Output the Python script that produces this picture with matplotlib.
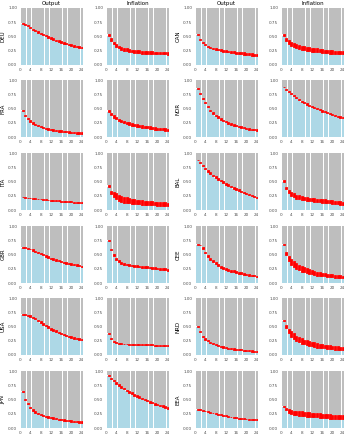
import numpy as np
import matplotlib
matplotlib.use("Agg")
import matplotlib.pyplot as plt

# ===============================
# dados
# ===============================
horizons = list(range(1, 25))
col_titles = ["Output", "Inflation", "Output", "Inflation"]
left_countries = ["DEU", "FRA", "ITA", "GBR", "USA", "JPN"]
right_countries = ["CAN", "NOR", "BAL", "CEE", "NRD", "EEA"]
y_ticks = [0.00, 0.25, 0.50, 0.75, 1.00]
x_ticks = [0, 4, 8, 12, 16, 20, 24]

deu_out_lo = [0.72, 0.70, 0.68, 0.65, 0.62, 0.59, 0.57, 0.54, 0.52, 0.50, 0.48, 0.46, 0.44, 0.42, 0.40, 0.39, 0.37, 0.36, 0.35, 0.33, 0.32, 0.31, 0.30, 0.29]
deu_out_hi = [0.74, 0.72, 0.70, 0.67, 0.64, 0.61, 0.59, 0.565, 0.545, 0.525, 0.505, 0.485, 0.465, 0.445, 0.43, 0.415, 0.40, 0.39, 0.375, 0.36, 0.35, 0.34, 0.33, 0.32]
deu_inf_lo = [0.51, 0.42, 0.36, 0.32, 0.29, 0.27, 0.25, 0.24, 0.23, 0.22, 0.215, 0.21, 0.205, 0.20, 0.20, 0.195, 0.195, 0.19, 0.19, 0.19, 0.185, 0.185, 0.185, 0.18]
deu_inf_hi = [0.55, 0.47, 0.41, 0.37, 0.34, 0.32, 0.30, 0.29, 0.28, 0.27, 0.265, 0.26, 0.255, 0.25, 0.25, 0.245, 0.24, 0.24, 0.235, 0.235, 0.23, 0.23, 0.23, 0.225]
can_out_lo = [0.52, 0.44, 0.39, 0.35, 0.32, 0.30, 0.28, 0.265, 0.255, 0.245, 0.235, 0.225, 0.22, 0.21, 0.205, 0.20, 0.19, 0.185, 0.18, 0.175, 0.17, 0.165, 0.16, 0.155]
can_out_hi = [0.54, 0.46, 0.41, 0.37, 0.34, 0.32, 0.305, 0.295, 0.285, 0.275, 0.265, 0.26, 0.25, 0.245, 0.24, 0.235, 0.23, 0.225, 0.22, 0.215, 0.21, 0.205, 0.20, 0.195]
can_inf_lo = [0.51, 0.42, 0.36, 0.33, 0.31, 0.29, 0.28, 0.27, 0.26, 0.25, 0.24, 0.235, 0.23, 0.225, 0.22, 0.215, 0.21, 0.205, 0.20, 0.20, 0.195, 0.19, 0.19, 0.185]
can_inf_hi = [0.55, 0.48, 0.44, 0.41, 0.38, 0.36, 0.35, 0.34, 0.33, 0.32, 0.31, 0.30, 0.295, 0.29, 0.28, 0.275, 0.27, 0.265, 0.26, 0.255, 0.25, 0.245, 0.24, 0.24]

fra_out_lo = [0.46, 0.36, 0.31, 0.27, 0.235, 0.21, 0.19, 0.17, 0.155, 0.14, 0.13, 0.12, 0.11, 0.10, 0.095, 0.09, 0.085, 0.08, 0.075, 0.07, 0.065, 0.06, 0.06, 0.055]
fra_out_hi = [0.48, 0.385, 0.335, 0.295, 0.26, 0.235, 0.215, 0.195, 0.18, 0.165, 0.155, 0.145, 0.135, 0.125, 0.12, 0.115, 0.11, 0.105, 0.10, 0.095, 0.09, 0.085, 0.085, 0.08]
fra_inf_lo = [0.44, 0.38, 0.34, 0.31, 0.28, 0.26, 0.24, 0.225, 0.21, 0.20, 0.19, 0.18, 0.17, 0.16, 0.155, 0.15, 0.14, 0.135, 0.13, 0.125, 0.12, 0.115, 0.11, 0.105]
fra_inf_hi = [0.47, 0.42, 0.38, 0.35, 0.32, 0.30, 0.285, 0.27, 0.255, 0.245, 0.235, 0.225, 0.215, 0.205, 0.20, 0.19, 0.185, 0.18, 0.17, 0.165, 0.16, 0.155, 0.15, 0.145]
nor_out_lo = [0.84, 0.75, 0.67, 0.59, 0.52, 0.46, 0.41, 0.37, 0.335, 0.305, 0.28, 0.255, 0.235, 0.215, 0.20, 0.185, 0.17, 0.16, 0.15, 0.14, 0.13, 0.12, 0.115, 0.11]
nor_out_hi = [0.86, 0.77, 0.69, 0.61, 0.54, 0.48, 0.43, 0.39, 0.36, 0.33, 0.305, 0.28, 0.26, 0.24, 0.225, 0.21, 0.195, 0.185, 0.175, 0.165, 0.155, 0.145, 0.14, 0.135]
nor_inf_lo = [0.87, 0.83, 0.79, 0.75, 0.715, 0.68, 0.65, 0.62, 0.595, 0.57, 0.545, 0.525, 0.505, 0.485, 0.465, 0.445, 0.43, 0.415, 0.40, 0.385, 0.37, 0.355, 0.34, 0.325]
nor_inf_hi = [0.885, 0.845, 0.805, 0.77, 0.735, 0.70, 0.67, 0.64, 0.615, 0.59, 0.565, 0.545, 0.525, 0.505, 0.485, 0.465, 0.45, 0.435, 0.42, 0.405, 0.39, 0.375, 0.36, 0.345]

ita_out_lo = [0.22, 0.215, 0.21, 0.205, 0.20, 0.195, 0.19, 0.185, 0.18, 0.175, 0.17, 0.165, 0.16, 0.156, 0.152, 0.148, 0.144, 0.14, 0.136, 0.133, 0.13, 0.127, 0.124, 0.12]
ita_out_hi = [0.225, 0.22, 0.216, 0.212, 0.208, 0.204, 0.20, 0.196, 0.192, 0.188, 0.184, 0.18, 0.176, 0.172, 0.168, 0.164, 0.161, 0.158, 0.155, 0.152, 0.149, 0.146, 0.143, 0.14]
ita_inf_lo = [0.40, 0.28, 0.23, 0.19, 0.16, 0.145, 0.13, 0.12, 0.115, 0.11, 0.105, 0.10, 0.097, 0.094, 0.091, 0.088, 0.085, 0.082, 0.08, 0.078, 0.076, 0.074, 0.072, 0.07]
ita_inf_hi = [0.44, 0.34, 0.32, 0.29, 0.27, 0.25, 0.235, 0.22, 0.21, 0.20, 0.19, 0.18, 0.175, 0.17, 0.165, 0.16, 0.155, 0.15, 0.145, 0.14, 0.138, 0.135, 0.132, 0.13]
bal_out_lo = [0.87, 0.82, 0.77, 0.72, 0.675, 0.635, 0.595, 0.565, 0.535, 0.505, 0.475, 0.445, 0.425, 0.395, 0.375, 0.355, 0.335, 0.315, 0.295, 0.275, 0.255, 0.24, 0.225, 0.205]
bal_out_hi = [0.885, 0.835, 0.785, 0.74, 0.70, 0.66, 0.62, 0.59, 0.56, 0.53, 0.50, 0.47, 0.45, 0.42, 0.40, 0.38, 0.36, 0.34, 0.32, 0.30, 0.28, 0.265, 0.25, 0.23]
bal_inf_lo = [0.50, 0.37, 0.29, 0.25, 0.22, 0.20, 0.19, 0.18, 0.17, 0.16, 0.155, 0.15, 0.145, 0.14, 0.135, 0.13, 0.125, 0.12, 0.115, 0.11, 0.105, 0.10, 0.095, 0.09]
bal_inf_hi = [0.53, 0.41, 0.35, 0.32, 0.29, 0.27, 0.255, 0.24, 0.23, 0.22, 0.215, 0.21, 0.205, 0.20, 0.195, 0.19, 0.185, 0.18, 0.175, 0.17, 0.16, 0.155, 0.15, 0.145]

gbr_out_lo = [0.62, 0.62, 0.60, 0.59, 0.57, 0.55, 0.53, 0.51, 0.49, 0.46, 0.44, 0.42, 0.41, 0.39, 0.38, 0.36, 0.35, 0.34, 0.33, 0.32, 0.31, 0.30, 0.29, 0.28]
gbr_out_hi = [0.625, 0.625, 0.615, 0.605, 0.59, 0.57, 0.55, 0.53, 0.51, 0.485, 0.465, 0.445, 0.43, 0.415, 0.40, 0.385, 0.375, 0.365, 0.355, 0.345, 0.335, 0.325, 0.315, 0.305]
gbr_inf_lo = [0.74, 0.58, 0.48, 0.41, 0.37, 0.34, 0.32, 0.31, 0.30, 0.29, 0.285, 0.28, 0.275, 0.27, 0.265, 0.26, 0.255, 0.25, 0.245, 0.24, 0.235, 0.23, 0.225, 0.215]
gbr_inf_hi = [0.76, 0.60, 0.50, 0.435, 0.395, 0.37, 0.35, 0.34, 0.33, 0.32, 0.315, 0.31, 0.305, 0.30, 0.295, 0.29, 0.285, 0.28, 0.275, 0.27, 0.265, 0.26, 0.255, 0.245]
cee_out_lo = [0.67, 0.66, 0.60, 0.52, 0.46, 0.41, 0.37, 0.33, 0.30, 0.27, 0.25, 0.23, 0.215, 0.20, 0.19, 0.175, 0.165, 0.155, 0.145, 0.135, 0.13, 0.12, 0.115, 0.10]
cee_out_hi = [0.685, 0.675, 0.625, 0.55, 0.49, 0.44, 0.40, 0.365, 0.335, 0.305, 0.285, 0.265, 0.25, 0.235, 0.22, 0.205, 0.195, 0.185, 0.175, 0.165, 0.155, 0.145, 0.14, 0.13]
cee_inf_lo = [0.66, 0.50, 0.38, 0.32, 0.28, 0.25, 0.22, 0.20, 0.185, 0.17, 0.16, 0.15, 0.14, 0.13, 0.125, 0.12, 0.115, 0.11, 0.10, 0.10, 0.095, 0.09, 0.085, 0.08]
cee_inf_hi = [0.69, 0.55, 0.47, 0.42, 0.38, 0.35, 0.32, 0.30, 0.28, 0.26, 0.24, 0.22, 0.21, 0.20, 0.19, 0.18, 0.17, 0.16, 0.155, 0.15, 0.145, 0.14, 0.135, 0.13]

usa_out_lo = [0.71, 0.70, 0.69, 0.675, 0.65, 0.625, 0.595, 0.565, 0.535, 0.505, 0.475, 0.445, 0.425, 0.405, 0.385, 0.365, 0.345, 0.33, 0.315, 0.30, 0.285, 0.275, 0.265, 0.255]
usa_out_hi = [0.725, 0.715, 0.705, 0.695, 0.675, 0.65, 0.62, 0.59, 0.56, 0.53, 0.50, 0.47, 0.45, 0.43, 0.41, 0.39, 0.37, 0.355, 0.34, 0.325, 0.31, 0.30, 0.29, 0.28]
usa_inf_lo = [0.37, 0.28, 0.23, 0.205, 0.195, 0.19, 0.185, 0.185, 0.18, 0.18, 0.18, 0.18, 0.175, 0.175, 0.175, 0.17, 0.17, 0.17, 0.165, 0.165, 0.16, 0.16, 0.16, 0.155]
usa_inf_hi = [0.385, 0.295, 0.245, 0.22, 0.21, 0.205, 0.20, 0.20, 0.195, 0.195, 0.195, 0.195, 0.19, 0.19, 0.19, 0.185, 0.185, 0.185, 0.18, 0.18, 0.175, 0.175, 0.175, 0.17]
nrd_out_lo = [0.49, 0.40, 0.32, 0.27, 0.24, 0.21, 0.19, 0.17, 0.155, 0.14, 0.13, 0.12, 0.11, 0.10, 0.095, 0.09, 0.085, 0.08, 0.075, 0.07, 0.065, 0.06, 0.055, 0.05]
nrd_out_hi = [0.51, 0.42, 0.34, 0.29, 0.26, 0.23, 0.21, 0.19, 0.175, 0.16, 0.15, 0.14, 0.13, 0.12, 0.115, 0.11, 0.105, 0.10, 0.095, 0.09, 0.085, 0.08, 0.075, 0.07]
nrd_inf_lo = [0.59, 0.48, 0.39, 0.32, 0.28, 0.25, 0.22, 0.20, 0.185, 0.17, 0.16, 0.15, 0.14, 0.13, 0.125, 0.12, 0.115, 0.11, 0.105, 0.10, 0.095, 0.09, 0.085, 0.08]
nrd_inf_hi = [0.62, 0.52, 0.46, 0.42, 0.38, 0.34, 0.31, 0.29, 0.27, 0.255, 0.24, 0.23, 0.22, 0.21, 0.20, 0.19, 0.18, 0.175, 0.17, 0.16, 0.155, 0.15, 0.145, 0.14]

jpn_out_lo = [0.63, 0.50, 0.42, 0.35, 0.30, 0.265, 0.24, 0.22, 0.205, 0.19, 0.18, 0.17, 0.16, 0.15, 0.14, 0.135, 0.13, 0.12, 0.115, 0.11, 0.105, 0.10, 0.095, 0.09]
jpn_out_hi = [0.645, 0.515, 0.44, 0.37, 0.325, 0.29, 0.265, 0.245, 0.23, 0.215, 0.205, 0.195, 0.185, 0.175, 0.165, 0.16, 0.155, 0.145, 0.14, 0.135, 0.13, 0.125, 0.12, 0.115]
jpn_inf_lo = [0.92, 0.86, 0.82, 0.78, 0.74, 0.71, 0.68, 0.65, 0.62, 0.595, 0.57, 0.55, 0.525, 0.505, 0.485, 0.465, 0.445, 0.43, 0.41, 0.395, 0.38, 0.365, 0.35, 0.335]
jpn_inf_hi = [0.935, 0.88, 0.84, 0.80, 0.765, 0.735, 0.705, 0.675, 0.65, 0.625, 0.60, 0.58, 0.555, 0.535, 0.515, 0.495, 0.475, 0.46, 0.44, 0.425, 0.41, 0.395, 0.38, 0.365]
eea_out_lo = [0.31, 0.31, 0.30, 0.29, 0.28, 0.27, 0.255, 0.245, 0.235, 0.225, 0.215, 0.205, 0.195, 0.185, 0.175, 0.17, 0.165, 0.16, 0.155, 0.15, 0.148, 0.145, 0.142, 0.14]
eea_out_hi = [0.325, 0.325, 0.315, 0.305, 0.295, 0.285, 0.27, 0.26, 0.25, 0.24, 0.23, 0.22, 0.21, 0.20, 0.19, 0.185, 0.18, 0.175, 0.17, 0.165, 0.163, 0.16, 0.157, 0.155]
eea_inf_lo = [0.37, 0.31, 0.26, 0.24, 0.23, 0.22, 0.215, 0.21, 0.205, 0.20, 0.195, 0.19, 0.19, 0.185, 0.18, 0.18, 0.175, 0.17, 0.165, 0.16, 0.16, 0.155, 0.15, 0.15]
eea_inf_hi = [0.39, 0.35, 0.33, 0.31, 0.30, 0.30, 0.29, 0.29, 0.285, 0.28, 0.275, 0.27, 0.265, 0.26, 0.255, 0.25, 0.245, 0.24, 0.24, 0.235, 0.23, 0.225, 0.22, 0.22]

# grade 6x4: (lo, hi) por painel
panels = [
    [(deu_out_lo, deu_out_hi), (deu_inf_lo, deu_inf_hi), (can_out_lo, can_out_hi), (can_inf_lo, can_inf_hi)],
    [(fra_out_lo, fra_out_hi), (fra_inf_lo, fra_inf_hi), (nor_out_lo, nor_out_hi), (nor_inf_lo, nor_inf_hi)],
    [(ita_out_lo, ita_out_hi), (ita_inf_lo, ita_inf_hi), (bal_out_lo, bal_out_hi), (bal_inf_lo, bal_inf_hi)],
    [(gbr_out_lo, gbr_out_hi), (gbr_inf_lo, gbr_inf_hi), (cee_out_lo, cee_out_hi), (cee_inf_lo, cee_inf_hi)],
    [(usa_out_lo, usa_out_hi), (usa_inf_lo, usa_inf_hi), (nrd_out_lo, nrd_out_hi), (nrd_inf_lo, nrd_inf_hi)],
    [(jpn_out_lo, jpn_out_hi), (jpn_inf_lo, jpn_inf_hi), (eea_out_lo, eea_out_hi), (eea_inf_lo, eea_inf_hi)],
]

# ===============================
# layout (pixels da referência)
# ===============================
W, H = 350, 436
col_left = [20, 106, 195, 281]
row_top = [8, 80, 153, 226, 298, 371]
pw, ph = 63, 57

BLUE = "#ADD8E6"
GREY = "#BEBEBE"
RED = "#FF0000"
TXT = "#4D4D4D"

fig = plt.figure(figsize=(W / 100, H / 100), dpi=100)
x = np.array(horizons)

for r in range(6):
    for c in range(4):
        lo, hi = panels[r][c]
        lo = np.array(lo)
        hi = np.array(hi)
        ax = fig.add_axes([col_left[c] / W, 1 - (row_top[r] + ph) / H, pw / W, ph / H])
        ax.bar(x, lo, width=0.9, color=BLUE, linewidth=0)
        ax.bar(x, 1 - hi, bottom=hi, width=0.9, color=GREY, linewidth=0)
        # faixa vermelha por cima (borda engrossa um pouco, como na ref)
        ax.bar(x, hi - lo, bottom=lo, width=0.8, color=RED, edgecolor=RED,
               linewidth=0.6, zorder=3)
        ax.set_xlim(0, 24.5)
        ax.set_ylim(0, 1)
        ax.set_xticks(x_ticks)
        ax.set_yticks(y_ticks)
        ax.set_yticklabels([f"{v:.2f}" for v in y_ticks])
        ax.tick_params(length=0, labelsize=3, colors=TXT, pad=2)
        for s in ax.spines.values():
            s.set_visible(False)
        if r == 0:
            ax.set_title(col_titles[c], fontsize=4, pad=2.5, color="black")
        if c == 0:
            ax.set_ylabel(left_countries[r], fontsize=4, labelpad=2)
        elif c == 2:
            ax.set_ylabel(right_countries[r], fontsize=4, labelpad=2)

fig.savefig("out.png", dpi=100)
print("ok")
